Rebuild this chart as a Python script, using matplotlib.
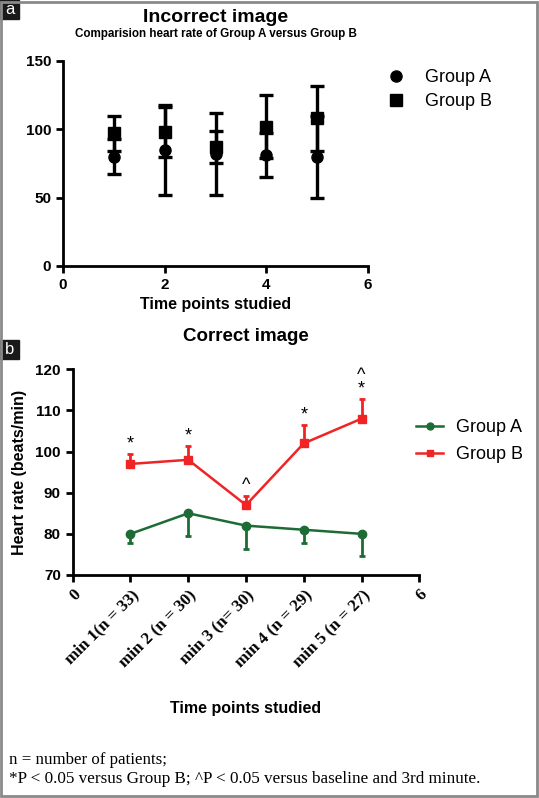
import numpy as np
import matplotlib
matplotlib.use('Agg')
import matplotlib.pyplot as plt
from matplotlib.patches import Rectangle
from matplotlib.lines import Line2D

plt.rcParams['font.family'] = ['Liberation Sans', 'DejaVu Sans']

# panel a (incorrect image): mean and SD
time_pts = [1, 2, 3, 4, 5]
a_mean_top = [80, 85, 82, 81, 80]
a_sd_top = [13, 33, 30, 16, 30]
b_mean_top = [97, 98, 87, 102, 108]
b_sd_top = [13, 18, 12, 23, 24]

# panel b (correct image): mean and SEM
a_mean = [80, 85, 82, 81, 80]
a_sem = [2.3, 5.6, 5.6, 3.2, 5.4]
b_mean = [97, 98, 87, 102, 108]
b_sem = [2.4, 3.4, 2.3, 4.5, 4.8]
signif = ['*', '*', '^', '*', '^\n*']
xtick_pos = [0, 1, 2, 3, 4, 5, 6]
xtick_labels = ['0', 'min 1(n = 33)', 'min 2 (n = 30)', 'min 3 (n= 30)',
                'min 4 (n = 29)', 'min 5 (n = 27)', '6']

green = '#1d6b35'
red = '#f02424'
W, H = 539, 798

fig = plt.figure(figsize=(W / 100, H / 100), dpi=100)

def fx(px):
    return px / W

def fy(py):
    return 1 - py / H

def style_axes(ax):
    for s in ['top', 'right']:
        ax.spines[s].set_visible(False)
    for s in ['left', 'bottom']:
        ax.spines[s].set_linewidth(2)
    ax.tick_params(width=2, length=5, direction='out', labelsize=11)
    for lab in ax.get_yticklabels():
        lab.set_fontweight('bold')

# ---- panel a ----
ax1 = fig.add_axes([fx(63), fy(266), fx(305), 205 / H])
ax1.errorbar(time_pts, a_mean_top, yerr=a_sd_top, fmt='none', ecolor='black',
             elinewidth=2.4, capsize=5, capthick=2.4)
ax1.errorbar(time_pts, b_mean_top, yerr=b_sd_top, fmt='none', ecolor='black',
             elinewidth=2.4, capsize=5, capthick=2.4)
ax1.plot(time_pts, a_mean_top, 'o', color='black', ms=8, label='Group A')
ax1.plot(time_pts, b_mean_top, 's', color='black', ms=8, label='Group B')
ax1.set_xlim(0, 6)
ax1.set_ylim(0, 150)
ax1.set_xticks([0, 2, 4, 6])
ax1.set_yticks([0, 50, 100, 150])
style_axes(ax1)
for lab in ax1.get_xticklabels():
    lab.set_fontweight('bold')
ax1.legend(loc='upper left', bbox_to_anchor=(fx(371), fy(53)),
           bbox_transform=fig.transFigure, frameon=False, fontsize=13,
           handletextpad=1.1, labelspacing=0.4, handlelength=1.0)
fig.text(fx(216), fy(17), 'Incorrect image', ha='center', va='center',
         fontsize=14, fontweight='bold')
fig.text(fx(216), fy(34), 'Comparision heart rate of Group A versus Group B',
         ha='center', va='center', fontsize=8.4, fontweight='bold')
fig.text(fx(216), fy(305), 'Time points studied', ha='center', va='center',
         fontsize=11.5, fontweight='bold')

# ---- panel b ----
ax2 = fig.add_axes([fx(72.7), fy(575), fx(346.6), 205.7 / H])
ax2.errorbar(time_pts, a_mean, yerr=[a_sem, [0] * 5], color=green, lw=1.8,
             marker='o', ms=6, elinewidth=2, capsize=2.5, capthick=2)
ax2.errorbar(time_pts, b_mean, yerr=[[0] * 5, b_sem], color=red, lw=1.8,
             marker='s', ms=6, elinewidth=2, capsize=2.5, capthick=2)
for x, m, e, s in zip(time_pts, b_mean, b_sem, signif):
    ax2.annotate(s, (x, m + e), xytext=(0, 1), textcoords='offset points',
                 ha='center', va='bottom', fontsize=13, linespacing=0.75)
ax2.set_xlim(0, 6)
ax2.set_ylim(70, 120)
ax2.set_yticks([70, 80, 90, 100, 110, 120])
ax2.set_xticks(xtick_pos)
style_axes(ax2)
ax2.set_xticklabels(xtick_labels, rotation=45, ha='right',
                    rotation_mode='anchor', family='Liberation Serif',
                    fontweight='bold', fontsize=12.3)
ax2.set_ylabel('Heart rate (beats/min)', fontsize=11.5, fontweight='bold',
               labelpad=6)
handles = [Line2D([], [], color=green, marker='o', ms=5, lw=1.8),
           Line2D([], [], color=red, marker='s', ms=5, lw=1.8)]
ax2.legend(handles, ['Group A', 'Group B'], loc='upper left',
           bbox_to_anchor=(fx(400), fy(403)),
           bbox_transform=fig.transFigure, frameon=False, fontsize=13,
           handletextpad=0.7, labelspacing=0.55, handlelength=1.5)
fig.text(fx(246), fy(337), 'Correct image', ha='center', va='center',
         fontsize=13.5, fontweight='bold')
fig.text(fx(246), fy(709), 'Time points studied', ha='center', va='center',
         fontsize=11.5, fontweight='bold')

# footnote
fig.text(fx(9), fy(760), 'n = number of patients;', ha='left', va='center',
         family='Liberation Serif', fontsize=12.2)
fig.text(fx(9), fy(779),
         '*P < 0.05 versus Group B; ^P < 0.05 versus baseline and 3rd minute.',
         ha='left', va='center', family='Liberation Serif', fontsize=12.3)

# panel labels
for lab, top in [('a', 0), ('b', 340)]:
    fig.patches.append(Rectangle((0, fy(top + 19)), fx(19), 19 / H,
                                 transform=fig.transFigure, color='#1a1a1a'))
    fig.text(fx(9.5), fy(top + 9.5), lab, color='white', ha='center',
             va='center', fontsize=12)

# figure border
fig.patches.append(Rectangle((0.002, 0.002), 0.995, 0.996, transform=fig.transFigure,
                             fill=False, edgecolor='#8a8a8a', lw=2))

fig.savefig('out.png', dpi=100)
